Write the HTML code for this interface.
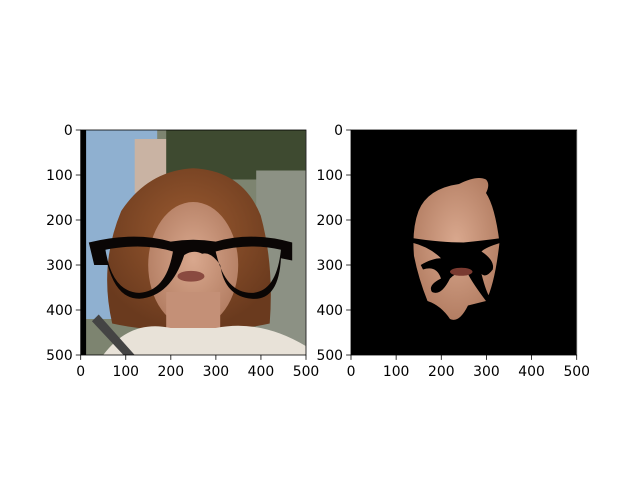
<!DOCTYPE html>
<html><head><meta charset="utf-8"><style>
body{margin:0;background:#fff}
svg text{font-family:"DejaVu Sans","Liberation Sans",sans-serif;font-size:13.9px;fill:#000}
</style></head><body>
<svg id="fig" width="640" height="480" viewBox="0 0 640 480" xmlns="http://www.w3.org/2000/svg">
<defs>
<clipPath id="c1"><rect x="0" y="0" width="500" height="500"/></clipPath>
<radialGradient id="skin" cx="0.5" cy="0.45" r="0.6"><stop offset="0" stop-color="#d9a88e"/><stop offset="1" stop-color="#b07a5f"/></radialGradient>
<radialGradient id="hair" cx="0.5" cy="0.4" r="0.6"><stop offset="0" stop-color="#9a5a30"/><stop offset="1" stop-color="#6a3a1e"/></radialGradient>
</defs>
<g id="left-img" transform="translate(80.7,130) scale(0.45)" clip-path="url(#c1)">
  <rect width="500" height="500" fill="#7d8470"/>
  <rect x="0" y="0" width="170" height="420" fill="#8fb0d0"/>
  <rect x="120" y="20" width="110" height="120" fill="#c9b3a3"/>
  <rect x="190" y="0" width="310" height="110" fill="#3e4a30"/>
  <rect x="390" y="90" width="110" height="410" fill="#8c9184"/>
  <rect x="0" y="0" width="12" height="500" fill="#000"/>
  <path d="M70 430 Q40 300 90 180 Q150 90 250 85 Q360 90 400 190 Q430 300 420 430 Q330 450 250 440 Q160 450 70 430 Z" fill="url(#hair)"/>
  <ellipse cx="250" cy="300" rx="100" ry="140" fill="url(#skin)"/>
  <rect x="190" y="360" width="120" height="130" fill="#c49077"/>
  <path d="M50 500 Q110 420 200 440 L300 440 Q400 420 500 480 L500 500 Z" fill="#e8e2d8"/>
  <path d="M40 410 L120 500 L95 500 L25 425 Z" fill="#444"/>
  <ellipse cx="245" cy="325" rx="30" ry="12" fill="#8a4a40"/>
  <path d="M18 250 Q120 225 200 248 Q250 240 300 248 Q380 225 470 250 L470 290 L445 285 Q440 380 380 375 Q320 370 310 300 Q290 270 270 275 Q250 265 230 278 Q200 370 130 375 Q80 375 60 300 L30 300 Z M55 266 Q70 360 130 362 Q190 358 205 270 Q140 250 55 266 Z M300 270 Q320 362 380 362 Q435 360 445 266 Q370 250 300 270 Z" fill="#0a0605" fill-rule="evenodd"/>
</g>
<g id="right-img" transform="translate(351,130) scale(0.45)" clip-path="url(#c1)">
  <rect width="500" height="500" fill="#000"/>
  <path d="M150 180 Q170 130 240 120 Q280 100 300 110 Q310 120 300 140 Q320 170 330 250 Q320 340 300 380 L260 390 Q240 430 220 420 Q200 390 170 380 Q150 330 140 280 Q135 220 150 180 Z" fill="url(#skin)"/>
  <path d="M135 240 Q200 250 250 250 Q300 245 335 240 L335 250 Q300 260 290 270 Q320 290 315 310 Q300 330 290 320 Q300 360 310 375 L300 380 Q270 340 260 320 Q240 310 220 330 Q200 370 180 360 Q170 345 200 330 Q190 300 160 310 L155 300 Q180 285 200 285 Q175 260 135 250 Z" fill="#000"/>
  <ellipse cx="245" cy="315" rx="25" ry="9" fill="#7a3a30"/>
</g>
<g id="axes"></g>
</svg>
<script>
const tickValues=[0,100,200,300,400,500];
const tickLabels=["0","100","200","300","400","500"];
const panels=[{name:"left",x0:80.7,x1:306},{name:"right",x0:351,x1:576.7}];
const Y0=130,Y1=355;
const ns="http://www.w3.org/2000/svg";
const g=document.getElementById('axes');
function mk(t,a){const e=document.createElementNS(ns,t);for(const k in a)e.setAttribute(k,a[k]);g.appendChild(e);return e;}
panels.forEach(p=>{
  const sx=v=>p.x0+(p.x1-p.x0)*v/500, sy=v=>Y0+(Y1-Y0)*v/500;
  const fr=mk('rect',{x:p.x0,y:Y0,width:p.x1-p.x0,height:Y1-Y0,fill:'none',stroke:'#000','stroke-width':0.8});
  
  
  tickValues.forEach((v,i)=>{
    const x=sx(v),y=sy(v);
    const t1=mk('line',{x1:x,x2:x,y1:Y1,y2:Y1+4.9,stroke:'#000','stroke-width':0.8});
    
    
    const l1=mk('text',{x:x,y:Y1+21,'text-anchor':'middle'});l1.textContent=tickLabels[i];
    
    
    const t2=mk('line',{x1:p.x0-4.9,x2:p.x0,y1:y,y2:y,stroke:'#000','stroke-width':0.8});
    
    
    const l2=mk('text',{x:p.x0-8,y:y+5,'text-anchor':'end'});l2.textContent=tickLabels[i];
    
    
  });
});
</script>
</body></html>
